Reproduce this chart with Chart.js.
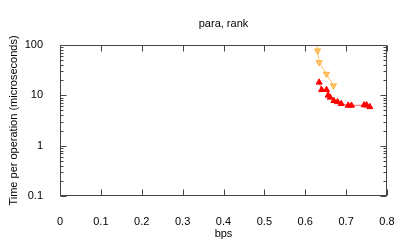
<!DOCTYPE html>
<html>
<head>
<meta charset="utf-8">
<script src="https://cdn.jsdelivr.net/npm/chart.js@4/dist/chart.umd.min.js"></script>
<style>
html, body { margin: 0; padding: 0; background: #fff; }
</style>
</head>
<body>
<canvas id="chart" width="407" height="244"></canvas>
<script>
let title = "para, rank";
let xLabel = "bps";
let yLabel = "Time per operation (microseconds)";
let xTicks = [0, 0.1, 0.2, 0.3, 0.4, 0.5, 0.6, 0.7, 0.8];
let yTicks = [0.1, 1, 10, 100];

// red, filled up-triangles
let redX = [0.634, 0.640, 0.652, 0.656, 0.661, 0.670, 0.679, 0.688, 0.705, 0.713, 0.744, 0.750, 0.758];
let redY = [18.1, 12.9, 12.9, 10.0, 9.1, 7.8, 7.4, 6.8, 6.3, 6.3, 6.4, 6.4, 5.9];

// orange, down-triangles (first one is above the top of the plot)
let orangeX = [0.628, 0.630, 0.634, 0.652, 0.669];
let orangeY = [200, 77, 45, 26.5, 15.5];

const fontFamily = "'Liberation Sans', Arial, sans-serif";
Chart.defaults.font.family = fontFamily;
Chart.defaults.font.size = 11;
Chart.defaults.color = '#000';

function toPoints(xs, ys) {
    return xs.map((x, i) => ({ x: x, y: ys[i] }));
}

// gnuplot style frame with inward ticks on all four sides
const framePlugin = {
    id: 'frame',
    afterDatasetsDraw(chart) {
        const ctx = chart.ctx;
        const a = chart.chartArea;
        const xs = chart.scales.x;
        const ys = chart.scales.y;
        const L = Math.round(a.left) + 0.5;
        const R = Math.round(a.right) - 0.5;
        const T = Math.round(a.top) + 0.5;
        const B = Math.round(a.bottom) - 0.5;
        ctx.save();
        ctx.strokeStyle = '#444';
        ctx.lineWidth = 1;
        ctx.beginPath();
        xTicks.forEach((v) => {
            const px = Math.round(xs.getPixelForValue(v)) + 0.5;
            ctx.moveTo(px, B); ctx.lineTo(px, B - 6);
            ctx.moveTo(px, T); ctx.lineTo(px, T + 6);
        });
        for (let d = 0; d < yTicks.length; d++) {
            const base = yTicks[d];
            const py = Math.round(ys.getPixelForValue(base)) + 0.5;
            ctx.moveTo(L, py); ctx.lineTo(L + 6, py);
            ctx.moveTo(R, py); ctx.lineTo(R - 6, py);
            if (d < yTicks.length - 1) {
                for (let m = 2; m <= 9; m++) {
                    const my = Math.round(ys.getPixelForValue(base * m)) + 0.5;
                    ctx.moveTo(L, my); ctx.lineTo(L + 3, my);
                    ctx.moveTo(R, my); ctx.lineTo(R - 3, my);
                }
            }
        }
        ctx.stroke();
        ctx.strokeRect(L, T, R - L, B - T);
        ctx.restore();
    }
};

new Chart(document.getElementById('chart'), {
    type: 'scatter',
    data: {
        datasets: [{
            data: toPoints(orangeX, orangeY),
            showLine: true,
            borderColor: 'rgba(255, 175, 60, 0.75)',
            borderWidth: 1,
            pointStyle: 'triangle',
            rotation: 180,
            pointRadius: 3.5,
            pointBackgroundColor: 'rgba(255, 200, 110, 0.9)',
            pointBorderColor: 'rgb(255, 170, 50)',
            pointBorderWidth: 1
        }, {
            data: toPoints(redX, redY),
            showLine: true,
            borderColor: 'rgba(255, 0, 0, 0.6)',
            borderWidth: 1,
            pointStyle: 'triangle',
            pointRadius: 3.5,
            pointBackgroundColor: '#ff0000',
            pointBorderColor: '#ff0000',
            pointBorderWidth: 1
        }]
    },
    options: {
        responsive: false,
        animation: false,
        layout: { padding: { left: 0, right: 20, top: 0, bottom: 0 } },
        plugins: {
            legend: { display: false },
            tooltip: { enabled: false },
            title: {
                display: true,
                text: title,
                fullSize: false,
                color: '#000',
                font: { size: 11, weight: 'normal', family: fontFamily },
                padding: { top: 17, bottom: 14.8 }
            }
        },
        scales: {
            x: {
                type: 'linear',
                min: 0,
                max: 0.8,
                grid: { display: false },
                border: { display: false },
                afterBuildTicks: (scale) => { scale.ticks = xTicks.map((v) => ({ value: v })); },
                afterFit: (scale) => { scale.height = 48; },
                ticks: {
                    padding: 11,
                    maxRotation: 0,
                    callback: (v) => String(v)
                },
                title: {
                    display: true,
                    text: xLabel,
                    font: { size: 11 },
                    padding: { top: 0, bottom: 3 }
                }
            },
            y: {
                type: 'logarithmic',
                min: 0.1,
                max: 100,
                grid: { display: false },
                border: { display: false },
                afterBuildTicks: (scale) => { scale.ticks = yTicks.map((v) => ({ value: v })); },
                afterFit: (scale) => { scale.width = 60; },
                ticks: {
                    padding: 9,
                    callback: (v) => String(v)
                },
                title: {
                    display: true,
                    text: yLabel,
                    font: { size: 11 },
                    padding: { top: 7, bottom: 0 }
                }
            }
        }
    },
    plugins: [framePlugin]
});
</script>
</body>
</html>
